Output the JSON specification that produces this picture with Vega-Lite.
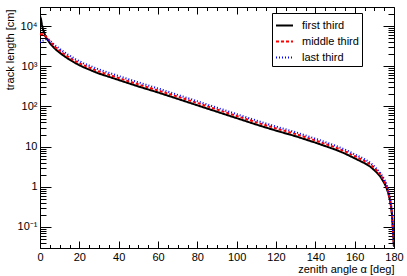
{
  "$schema": "https://vega.github.io/schema/vega-lite/v6.json",
  "width": 354,
  "height": 241,
  "autosize": {"type": "none"},
  "padding": {"left": 40, "top": 7, "right": 13, "bottom": 28},
  "background": "white",
  "config": {
    "view": {"stroke": null},
    "font": "Liberation Sans",
    "axis": {
      "grid": false,
      "domainColor": "black",
      "domainWidth": 1,
      "tickColor": "black",
      "tickWidth": 1,
      "labelColor": "black",
      "labelFont": "Liberation Sans",
      "labelFontSize": 11,
      "titleFont": "Liberation Sans",
      "titleFontSize": 11,
      "titleFontWeight": "normal",
      "titleColor": "black",
      "labelFlush": false,
      "labelOverlap": false
    }
  },
  "data": {
    "values": [
      {"angle":0,"length":17800,"series":"first third"},
      {"angle":0.5,"length":15100,"series":"first third"},
      {"angle":1,"length":10700,"series":"first third"},
      {"angle":1.5,"length":8510,"series":"first third"},
      {"angle":2,"length":7080,"series":"first third"},
      {"angle":3,"length":5250,"series":"first third"},
      {"angle":4,"length":4470,"series":"first third"},
      {"angle":5,"length":3800,"series":"first third"},
      {"angle":6,"length":3310,"series":"first third"},
      {"angle":8,"length":2630,"series":"first third"},
      {"angle":11,"length":2000,"series":"first third"},
      {"angle":14,"length":1580,"series":"first third"},
      {"angle":18,"length":1200,"series":"first third"},
      {"angle":22,"length":955,"series":"first third"},
      {"angle":26,"length":794,"series":"first third"},
      {"angle":30,"length":661,"series":"first third"},
      {"angle":35,"length":550,"series":"first third"},
      {"angle":40,"length":457,"series":"first third"},
      {"angle":50,"length":316,"series":"first third"},
      {"angle":60,"length":224,"series":"first third"},
      {"angle":70,"length":155,"series":"first third"},
      {"angle":80,"length":107,"series":"first third"},
      {"angle":90,"length":74.1,"series":"first third"},
      {"angle":100,"length":51.3,"series":"first third"},
      {"angle":110,"length":35.5,"series":"first third"},
      {"angle":120,"length":25.1,"series":"first third"},
      {"angle":130,"length":18.2,"series":"first third"},
      {"angle":140,"length":12.6,"series":"first third"},
      {"angle":150,"length":8.51,"series":"first third"},
      {"angle":155,"length":6.76,"series":"first third"},
      {"angle":160,"length":5.13,"series":"first third"},
      {"angle":165,"length":3.89,"series":"first third"},
      {"angle":168,"length":3.16,"series":"first third"},
      {"angle":171,"length":2.34,"series":"first third"},
      {"angle":173,"length":1.82,"series":"first third"},
      {"angle":175,"length":1.26,"series":"first third"},
      {"angle":176,"length":1.0,"series":"first third"},
      {"angle":177,"length":0.72,"series":"first third"},
      {"angle":178,"length":0.45,"series":"first third"},
      {"angle":178.5,"length":0.32,"series":"first third"},
      {"angle":179,"length":0.2,"series":"first third"},
      {"angle":179.5,"length":0.079,"series":"first third"},
      {"angle":180,"length":0.032,"series":"first third"},
      {"angle":0,"length":6310,"series":"middle third"},
      {"angle":0.5,"length":6310,"series":"middle third"},
      {"angle":1,"length":6310,"series":"middle third"},
      {"angle":1.5,"length":6310,"series":"middle third"},
      {"angle":2,"length":6170,"series":"middle third"},
      {"angle":3,"length":5500,"series":"middle third"},
      {"angle":4,"length":4900,"series":"middle third"},
      {"angle":5,"length":4270,"series":"middle third"},
      {"angle":6,"length":3720,"series":"middle third"},
      {"angle":8,"length":2950,"series":"middle third"},
      {"angle":11,"length":2240,"series":"middle third"},
      {"angle":14,"length":1780,"series":"middle third"},
      {"angle":18,"length":1350,"series":"middle third"},
      {"angle":22,"length":1070,"series":"middle third"},
      {"angle":26,"length":891,"series":"middle third"},
      {"angle":30,"length":741,"series":"middle third"},
      {"angle":35,"length":617,"series":"middle third"},
      {"angle":40,"length":513,"series":"middle third"},
      {"angle":50,"length":355,"series":"middle third"},
      {"angle":60,"length":251,"series":"middle third"},
      {"angle":70,"length":176,"series":"middle third"},
      {"angle":80,"length":122,"series":"middle third"},
      {"angle":90,"length":84.1,"series":"middle third"},
      {"angle":100,"length":58.2,"series":"middle third"},
      {"angle":110,"length":40.3,"series":"middle third"},
      {"angle":120,"length":28.5,"series":"middle third"},
      {"angle":130,"length":20.7,"series":"middle third"},
      {"angle":140,"length":14.3,"series":"middle third"},
      {"angle":150,"length":9.66,"series":"middle third"},
      {"angle":155,"length":7.67,"series":"middle third"},
      {"angle":160,"length":5.82,"series":"middle third"},
      {"angle":165,"length":4.42,"series":"middle third"},
      {"angle":168,"length":3.59,"series":"middle third"},
      {"angle":171,"length":2.63,"series":"middle third"},
      {"angle":173,"length":2.04,"series":"middle third"},
      {"angle":175,"length":1.41,"series":"middle third"},
      {"angle":176,"length":1.12,"series":"middle third"},
      {"angle":177,"length":0.79,"series":"middle third"},
      {"angle":178,"length":0.48,"series":"middle third"},
      {"angle":178.5,"length":0.34,"series":"middle third"},
      {"angle":179,"length":0.21,"series":"middle third"},
      {"angle":179.5,"length":0.079,"series":"middle third"},
      {"angle":180,"length":0.032,"series":"middle third"},
      {"angle":0,"length":3980,"series":"last third"},
      {"angle":0.5,"length":4170,"series":"last third"},
      {"angle":1,"length":4270,"series":"last third"},
      {"angle":1.5,"length":4370,"series":"last third"},
      {"angle":2,"length":4470,"series":"last third"},
      {"angle":3,"length":4680,"series":"last third"},
      {"angle":4,"length":4570,"series":"last third"},
      {"angle":5,"length":4370,"series":"last third"},
      {"angle":6,"length":3980,"series":"last third"},
      {"angle":8,"length":3240,"series":"last third"},
      {"angle":11,"length":2510,"series":"last third"},
      {"angle":14,"length":2000,"series":"last third"},
      {"angle":18,"length":1510,"series":"last third"},
      {"angle":22,"length":1200,"series":"last third"},
      {"angle":26,"length":1000,"series":"last third"},
      {"angle":30,"length":832,"series":"last third"},
      {"angle":35,"length":692,"series":"last third"},
      {"angle":40,"length":575,"series":"last third"},
      {"angle":50,"length":398,"series":"last third"},
      {"angle":60,"length":282,"series":"last third"},
      {"angle":70,"length":195,"series":"last third"},
      {"angle":80,"length":135,"series":"last third"},
      {"angle":90,"length":93.3,"series":"last third"},
      {"angle":100,"length":64.6,"series":"last third"},
      {"angle":110,"length":44.7,"series":"last third"},
      {"angle":120,"length":31.6,"series":"last third"},
      {"angle":130,"length":22.9,"series":"last third"},
      {"angle":140,"length":15.8,"series":"last third"},
      {"angle":150,"length":10.7,"series":"last third"},
      {"angle":155,"length":8.51,"series":"last third"},
      {"angle":160,"length":6.46,"series":"last third"},
      {"angle":165,"length":4.9,"series":"last third"},
      {"angle":168,"length":3.98,"series":"last third"},
      {"angle":171,"length":2.88,"series":"last third"},
      {"angle":173,"length":2.24,"series":"last third"},
      {"angle":175,"length":1.55,"series":"last third"},
      {"angle":176,"length":1.23,"series":"last third"},
      {"angle":177,"length":0.87,"series":"last third"},
      {"angle":178,"length":0.52,"series":"last third"},
      {"angle":178.5,"length":0.36,"series":"last third"},
      {"angle":179,"length":0.22,"series":"last third"},
      {"angle":179.5,"length":0.083,"series":"last third"},
      {"angle":180,"length":0.032,"series":"last third"}
    ]
  },
  "layer": [
    {
      "mark": {"type": "line", "strokeWidth": 2, "clip": true},
      "encoding": {
        "x": {
          "field": "angle", "type": "quantitative",
          "scale": {"domain": [0, 180], "nice": false, "zero": false},
          "axis": {
            "orient": "bottom",
            "values": [0,5,10,15,20,25,30,35,40,45,50,55,60,65,70,75,80,85,90,95,100,105,110,115,120,125,130,135,140,145,150,155,160,165,170,175,180],
            "labelExpr": "datum.value % 20 === 0 ? datum.label : ''",
            "tickSize": {"condition": {"test": "datum.value % 20 === 0", "value": -7}, "value": -3.5},
            "labelPadding": 10,
            "title": "zenith angle α [deg]",
            "titleAnchor": "end",
            "titleAlign": "right",
            "titleBaseline": "alphabetic",
            "titleX": 354,
            "titleY": 24
          }
        },
        "y": {
          "field": "length", "type": "quantitative",
          "scale": {"type": "log", "domain": [0.03, 30000], "nice": false},
          "axis": {
            "orient": "left",
            "values": [0.03,0.04,0.05,0.06,0.07,0.08,0.09,0.1,0.2,0.3,0.4,0.5,0.6,0.7,0.8,0.9,1,2,3,4,5,6,7,8,9,10,20,30,40,50,60,70,80,90,100,200,300,400,500,600,700,800,900,1000,2000,3000,4000,5000,6000,7000,8000,9000,10000,20000],
            "labelExpr": "datum.value==10000?'10⁴':datum.value==1000?'10³':datum.value==100?'10²':datum.value==10?'10':datum.value==1?'1':datum.value==0.1?'10⁻¹':''",
            "tickSize": {"condition": {"test": "datum.value==0.1||datum.value==1||datum.value==10||datum.value==100||datum.value==1000||datum.value==10000", "value": -11}, "value": -6},
            "labelPadding": 14,
            "title": "track length [cm]",
            "titleAnchor": "end",
            "titleAlign": "right",
            "titleBaseline": "middle",
            "titleAngle": -90,
            "titleX": -30,
            "titleY": 2
          }
        },
        "color": {
          "field": "series", "type": "nominal",
          "scale": {"domain": ["first third", "middle third", "last third"], "range": ["#000000", "#ff0000", "#0000ff"]},
          "legend": {
            "orient": "none", "legendX": 232, "legendY": 6, "title": null,
            "fillColor": "white", "strokeColor": "black", "padding": 3,
            "symbolType": "stroke", "symbolSize": 289, "symbolStrokeWidth": 2,
            "labelFontSize": 11, "labelColor": "black", "labelOffset": 8, "rowPadding": 1,
            "labelExpr": "datum.label + '         '"
          }
        },
        "strokeDash": {
          "field": "series", "type": "nominal",
          "scale": {"domain": ["first third", "middle third", "last third"], "range": [[1, 0], [3, 2], [1, 2]]},
          "legend": {
            "orient": "none", "legendX": 232, "legendY": 6, "title": null,
            "fillColor": "white", "strokeColor": "black", "padding": 3,
            "symbolType": "stroke", "symbolSize": 289, "symbolStrokeWidth": 2,
            "labelFontSize": 11, "labelColor": "black", "labelOffset": 8, "rowPadding": 1,
            "labelExpr": "datum.label + '         '"
          }
        }
      }
    },
    {
      "mark": {"type": "line", "opacity": 0},
      "encoding": {
        "x": {
          "field": "angle", "type": "quantitative",
          "scale": {"domain": [0, 180], "nice": false, "zero": false},
          "axis": {
            "orient": "top",
            "values": [0,5,10,15,20,25,30,35,40,45,50,55,60,65,70,75,80,85,90,95,100,105,110,115,120,125,130,135,140,145,150,155,160,165,170,175,180],
            "labels": false,
            "title": null,
            "tickSize": {"condition": {"test": "datum.value % 20 === 0", "value": -7}, "value": -3.5}
          }
        },
        "y": {
          "field": "length", "type": "quantitative",
          "scale": {"type": "log", "domain": [0.03, 30000], "nice": false},
          "axis": {
            "orient": "right",
            "values": [0.03,0.04,0.05,0.06,0.07,0.08,0.09,0.1,0.2,0.3,0.4,0.5,0.6,0.7,0.8,0.9,1,2,3,4,5,6,7,8,9,10,20,30,40,50,60,70,80,90,100,200,300,400,500,600,700,800,900,1000,2000,3000,4000,5000,6000,7000,8000,9000,10000,20000],
            "labels": false,
            "title": null,
            "tickSize": {"condition": {"test": "datum.value==0.1||datum.value==1||datum.value==10||datum.value==100||datum.value==1000||datum.value==10000", "value": -11}, "value": -6}
          }
        }
      }
    }
  ],
  "resolve": {"axis": {"x": "independent", "y": "independent"}}
}
